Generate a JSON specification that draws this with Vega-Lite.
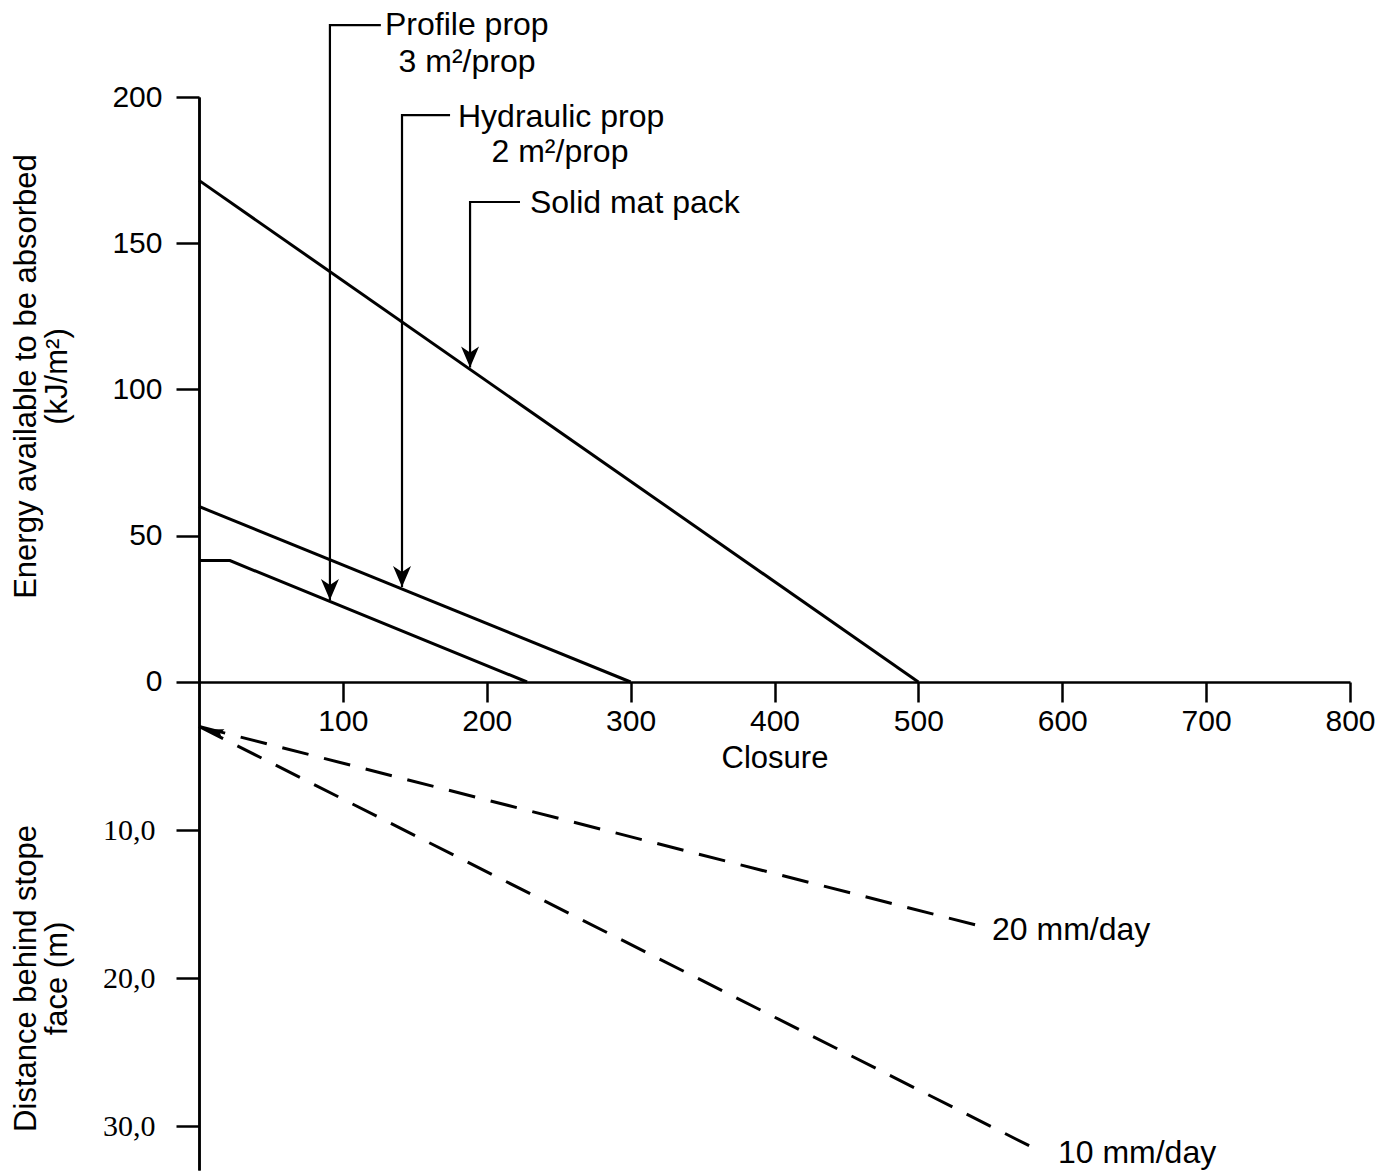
{
  "$schema": "https://vega.github.io/schema/vega-lite/v6.json",
  "autosize": {"type": "none"},
  "padding": {"left": 199, "top": 97, "right": 27, "bottom": 4},
  "width": 1151,
  "height": 1073,
  "background": "white",
  "config": {
    "view": {"stroke": null},
    "font": "Liberation Sans",
    "axis": {
      "grid": false,
      "domainColor": "black",
      "domainWidth": 2.5,
      "tickColor": "black",
      "tickWidth": 2.5,
      "labelColor": "black",
      "titleColor": "black",
      "labelFont": "Liberation Sans",
      "titleFont": "Liberation Sans",
      "labelFontSize": 30,
      "titleFontSize": 31,
      "titleFontWeight": "normal",
      "labelFlush": false,
      "labelOverlap": false
    }
  },
  "datasets": {
    "energy": [
      {"series": "Profile prop", "closure": 0, "energy": 41.5},
      {"series": "Profile prop", "closure": 21.5, "energy": 41.5},
      {"series": "Profile prop", "closure": 228, "energy": 0},
      {"series": "Hydraulic prop", "closure": 0, "energy": 60},
      {"series": "Hydraulic prop", "closure": 300, "energy": 0},
      {"series": "Solid mat pack", "closure": 0, "energy": 171.5},
      {"series": "Solid mat pack", "closure": 500, "energy": 0}
    ],
    "leaders": [
      {"arrow": "Profile prop", "ord": 1, "closure": 126.4, "energy": 224.6},
      {"arrow": "Profile prop", "ord": 2, "closure": 91, "energy": 224.6},
      {"arrow": "Profile prop", "ord": 3, "closure": 91, "energy": 28},
      {"arrow": "Hydraulic prop", "ord": 1, "closure": 174.5, "energy": 193.8},
      {"arrow": "Hydraulic prop", "ord": 2, "closure": 141.1, "energy": 193.8},
      {"arrow": "Hydraulic prop", "ord": 3, "closure": 141.1, "energy": 32.5},
      {"arrow": "Solid mat pack", "ord": 1, "closure": 223.1, "energy": 164.1},
      {"arrow": "Solid mat pack", "ord": 2, "closure": 188.4, "energy": 164.1},
      {"arrow": "Solid mat pack", "ord": 3, "closure": 188.4, "energy": 107.5}
    ],
    "tips": [
      {"arrow": "Profile prop", "closure": 91, "energy": 28},
      {"arrow": "Hydraulic prop", "closure": 141.1, "energy": 32.5},
      {"arrow": "Solid mat pack", "closure": 188.4, "energy": 107.5}
    ],
    "labelsLeft": [
      {"label": "Profile prop", "closure": 129.3, "energy": 224.6},
      {"label": "Hydraulic prop", "closure": 180, "energy": 193.2},
      {"label": "Solid mat pack", "closure": 230, "energy": 163.8}
    ],
    "labelsCenter": [
      {"label": "3 m²/prop", "closure": 186.3, "energy": 212},
      {"label": "2 m²/prop", "closure": 250.9, "energy": 181.2}
    ],
    "distance": [
      {"rate": "20 mm/day", "closure": 0, "distance": 3.0},
      {"rate": "20 mm/day", "closure": 539.4, "distance": 16.4},
      {"rate": "10 mm/day", "closure": 0, "distance": 3.0},
      {"rate": "10 mm/day", "closure": 586.6, "distance": 31.8}
    ],
    "startTip": [
      {"closure": 5, "distance": 3.2}
    ],
    "rateLabels": [
      {"label": "20 mm/day", "closure": 551.2, "distance": 16.76},
      {"label": "10 mm/day", "closure": 597, "distance": 31.85}
    ]
  },
  "layer": [
    {
      "layer": [
        {
          "data": {"name": "energy"},
          "mark": {"type": "line", "color": "black", "strokeWidth": 3},
          "encoding": {
            "x": {
              "field": "closure", "type": "quantitative",
              "scale": {"domain": [0, 800], "nice": false, "zero": false},
              "axis": {
                "orient": "bottom", "offset": -488,
                "values": [100, 200, 300, 400, 500, 600, 700, 800],
                "tickSize": 20, "labelPadding": 4,
                "title": "Closure", "titlePadding": 7
              }
            },
            "y": {
              "field": "energy", "type": "quantitative",
              "scale": {"domain": [-166.84, 200], "nice": false, "zero": false},
              "axis": {
                "orient": "left",
                "values": [0, 50, 100, 150, 200],
                "tickSize": 23, "labelPadding": 14,
                "title": ["Energy available to be absorbed", "(kJ/m²)"],
                "titleX": -173, "titleY": 279, "titleAngle": 270,
                "titleAlign": "center", "titleBaseline": "middle",
                "titleLineHeight": 31
              }
            },
            "detail": {"field": "series"}
          }
        },
        {
          "data": {"name": "leaders"},
          "mark": {"type": "line", "color": "black", "strokeWidth": 2.2},
          "encoding": {
            "x": {"field": "closure", "type": "quantitative"},
            "y": {"field": "energy", "type": "quantitative"},
            "detail": {"field": "arrow"},
            "order": {"field": "ord"}
          }
        },
        {
          "data": {"name": "tips"},
          "mark": {"type": "point", "shape": "M0,0L-0.9,-2.1L0,-1.5L0.9,-2.1Z", "size": 400, "filled": true, "color": "black", "opacity": 1, "strokeWidth": 0},
          "encoding": {
            "x": {"field": "closure", "type": "quantitative"},
            "y": {"field": "energy", "type": "quantitative"}
          }
        },
        {
          "data": {"name": "labelsLeft"},
          "mark": {"type": "text", "align": "left", "baseline": "middle", "font": "Liberation Sans", "fontSize": 32, "color": "black"},
          "encoding": {
            "x": {"field": "closure", "type": "quantitative"},
            "y": {"field": "energy", "type": "quantitative"},
            "text": {"field": "label"}
          }
        },
        {
          "data": {"name": "labelsCenter"},
          "mark": {"type": "text", "align": "center", "baseline": "middle", "font": "Liberation Sans", "fontSize": 32, "color": "black"},
          "encoding": {
            "x": {"field": "closure", "type": "quantitative"},
            "y": {"field": "energy", "type": "quantitative"},
            "text": {"field": "label"}
          }
        }
      ]
    },
    {
      "layer": [
        {
          "data": {"name": "distance"},
          "mark": {"type": "line", "color": "black", "strokeWidth": 3, "strokeDash": [27, 16]},
          "encoding": {
            "x": {"field": "closure", "type": "quantitative"},
            "y": {
              "field": "distance", "type": "quantitative",
              "scale": {"domain": [-39.53, 32.97], "reverse": true, "nice": false, "zero": false},
              "axis": {
                "orient": "left",
                "values": [10, 20, 30],
                "labelExpr": "replace(format(datum.value, '.1f'), '.', ',')",
                "labelFont": "Liberation Serif",
                "tickSize": 23, "labelPadding": 21,
                "title": ["Distance behind stope", "face (m)"],
                "titleX": -173, "titleY": 881, "titleAngle": 270,
                "titleAlign": "center", "titleBaseline": "middle",
                "titleLineHeight": 31
              }
            },
            "detail": {"field": "rate"}
          }
        },
        {
          "data": {"name": "startTip"},
          "mark": {"type": "point", "shape": "M0,0L-0.6,-2.2L0,-1.8L0.6,-2.2Z", "size": 256, "angle": 105, "filled": true, "color": "black", "opacity": 1, "strokeWidth": 0},
          "encoding": {
            "x": {"field": "closure", "type": "quantitative"},
            "y": {"field": "distance", "type": "quantitative"}
          }
        },
        {
          "data": {"name": "rateLabels"},
          "mark": {"type": "text", "align": "left", "baseline": "middle", "font": "Liberation Sans", "fontSize": 32, "color": "black"},
          "encoding": {
            "x": {"field": "closure", "type": "quantitative"},
            "y": {"field": "distance", "type": "quantitative"},
            "text": {"field": "label"}
          }
        }
      ]
    }
  ],
  "resolve": {"scale": {"y": "independent"}, "axis": {"y": "independent"}}
}
